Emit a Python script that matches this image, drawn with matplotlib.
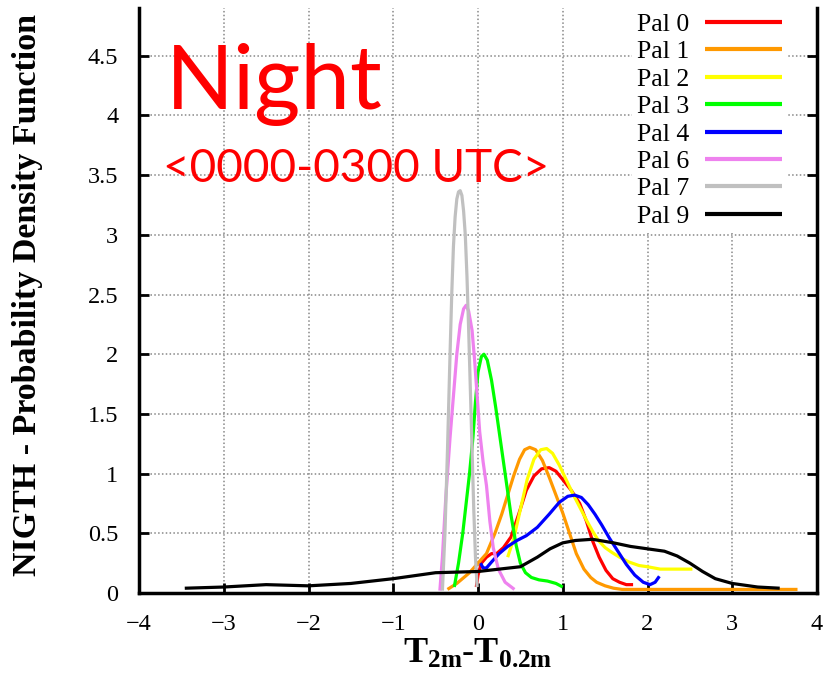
import matplotlib
matplotlib.use("Agg")
import matplotlib.pyplot as plt

# Temperature difference T2m - T0.2m (x) and estimated PDF (y) per Pal class
pal0_x = [-0.02, 0.0, 0.04, 0.1, 0.16, 0.22, 0.3, 0.39, 0.48, 0.57, 0.66, 0.75, 0.84, 0.92, 1.0, 1.1, 1.2, 1.28, 1.35, 1.43, 1.51, 1.59, 1.67, 1.75, 1.83]
pal0_y = [0.05, 0.15, 0.25, 0.3, 0.33, 0.33, 0.38, 0.47, 0.66, 0.86, 0.98, 1.04, 1.05, 1.02, 0.95, 0.86, 0.75, 0.6, 0.44, 0.3, 0.19, 0.12, 0.09, 0.07, 0.07]

pal1_x = [-0.36, -0.25, -0.1, 0.0, 0.1, 0.2, 0.28, 0.35, 0.42, 0.49, 0.55, 0.61, 0.68, 0.76, 0.84, 0.92, 1.0, 1.08, 1.16, 1.25, 1.33, 1.4, 1.5, 1.6, 1.7, 1.9, 2.2, 2.6, 3.0, 3.4, 3.77]
pal1_y = [0.03, 0.08, 0.17, 0.25, 0.33, 0.5, 0.66, 0.82, 0.98, 1.12, 1.2, 1.22, 1.2, 1.11, 0.97, 0.82, 0.67, 0.5, 0.33, 0.2, 0.13, 0.09, 0.06, 0.04, 0.03, 0.03, 0.03, 0.03, 0.03, 0.03, 0.03]

pal2_x = [0.35, 0.42, 0.5, 0.58, 0.66, 0.74, 0.81, 0.88, 0.96, 1.04, 1.12, 1.2, 1.28, 1.35, 1.42, 1.5, 1.58, 1.67, 1.78, 1.9, 2.0, 2.15, 2.3, 2.42, 2.53]
pal2_y = [0.3, 0.45, 0.7, 0.95, 1.12, 1.2, 1.21, 1.17, 1.07, 0.95, 0.83, 0.72, 0.61, 0.52, 0.44, 0.38, 0.34, 0.3, 0.26, 0.23, 0.22, 0.2, 0.2, 0.2, 0.2]

pal3_x = [-0.28, -0.23, -0.18, -0.14, -0.1, -0.06, -0.03, 0.0, 0.04, 0.07, 0.11, 0.16, 0.21, 0.27, 0.33, 0.39, 0.45, 0.5, 0.56, 0.63, 0.72, 0.82, 0.92, 1.0]
pal3_y = [0.05, 0.25, 0.5, 0.75, 1.0, 1.3, 1.6, 1.85, 1.98, 2.0, 1.95, 1.78, 1.55, 1.25, 0.95, 0.65, 0.4, 0.25, 0.17, 0.13, 0.11, 0.1, 0.08, 0.05]

pal4_x = [0.03, 0.06, 0.1, 0.16, 0.25, 0.35, 0.46, 0.57, 0.7, 0.84, 0.96, 1.06, 1.14, 1.22, 1.3, 1.38, 1.46, 1.55, 1.65, 1.75, 1.85, 1.95, 2.03, 2.09, 2.14]
pal4_y = [0.25, 0.21, 0.21, 0.26, 0.33, 0.39, 0.44, 0.48, 0.55, 0.66, 0.76, 0.81, 0.82, 0.8, 0.74, 0.66, 0.57, 0.46, 0.35, 0.24, 0.15, 0.09, 0.07, 0.09, 0.14]

pal6_x = [-0.45, -0.42, -0.38, -0.33, -0.29, -0.25, -0.21, -0.17, -0.14, -0.11, -0.07, -0.04, -0.01, 0.02, 0.06, 0.1, 0.14, 0.18, 0.24, 0.32, 0.43]
pal6_y = [0.02, 0.3, 0.8, 1.3, 1.65, 2.0, 2.25, 2.38, 2.41, 2.36, 2.2, 1.95, 1.65, 1.35, 1.1, 0.9, 0.6, 0.38, 0.2, 0.09, 0.03]

pal7_x = [-0.42, -0.39, -0.36, -0.33, -0.31, -0.29, -0.27, -0.25, -0.23, -0.21, -0.19, -0.17, -0.15, -0.13, -0.11, -0.09, -0.07, -0.05, -0.03, -0.01]
pal7_y = [0.02, 0.5, 1.2, 2.0, 2.5, 2.9, 3.15, 3.3, 3.36, 3.37, 3.33, 3.2, 3.0, 2.65, 2.2, 1.7, 1.2, 0.7, 0.3, 0.05]

pal9_x = [-3.46, -3.0, -2.5, -2.0, -1.5, -1.0, -0.5, 0.0, 0.5, 0.7, 0.85, 1.0, 1.15, 1.35, 1.6, 1.8, 2.0, 2.2, 2.35, 2.5, 2.65, 2.8, 3.0, 3.3, 3.56]
pal9_y = [0.04, 0.05, 0.07, 0.06, 0.08, 0.12, 0.17, 0.18, 0.22, 0.3, 0.37, 0.42, 0.44, 0.45, 0.42, 0.39, 0.37, 0.35, 0.31, 0.25, 0.18, 0.12, 0.08, 0.05, 0.04]

labels = ["Pal 0", "Pal 1", "Pal 2", "Pal 3", "Pal 4", "Pal 6", "Pal 7", "Pal 9"]
colors = ["#ff0000", "#ff9900", "#ffff00", "#00ff00", "#0000ff", "#ee82ee", "#c0c0c0", "#000000"]
xs = [pal0_x, pal1_x, pal2_x, pal3_x, pal4_x, pal6_x, pal7_x, pal9_x]
ys = [pal0_y, pal1_y, pal2_y, pal3_y, pal4_y, pal6_y, pal7_y, pal9_y]

x_ticks = [-4, -3, -2, -1, 0, 1, 2, 3, 4]
y_ticks = [0, 0.5, 1, 1.5, 2, 2.5, 3, 3.5, 4, 4.5]
y_tick_labels = ["0", "0.5", "1", "1.5", "2", "2.5", "3", "3.5", "4", "4.5"]

serif = "Liberation Serif"
plt.rcParams["font.family"] = serif
plt.rcParams["mathtext.fontset"] = "custom"
plt.rcParams["mathtext.rm"] = "Liberation Serif:bold"
plt.rcParams["mathtext.it"] = "Liberation Serif:bold"
plt.rcParams["mathtext.bf"] = "Liberation Serif:bold"

fig = plt.figure(figsize=(8.26, 6.75), dpi=100)
ax = fig.add_axes([139 / 826, 82 / 675, 678 / 826, 585 / 675])

for x, y, c, lab in zip(xs, ys, colors, labels):
    ax.plot(x, y, color=c, lw=2.3, label=lab, solid_capstyle="butt")

ax.set_xlim(-4, 4)
ax.set_ylim(0, 4.9)
ax.set_xticks(x_ticks)
ax.set_xticklabels(["\u2212" + str(-t) if t < 0 else str(t) for t in x_ticks])
ax.set_yticks(y_ticks)
ax.set_yticklabels(y_tick_labels)
ax.tick_params(direction="in", length=7, width=2, labelsize=17.5, right=True, top=False)
ax.tick_params(axis="y", pad=15)
ax.tick_params(axis="x", pad=15)
ax.grid(True, color="#888888", linestyle=(0, (1, 1.5)), lw=1.1)

for side in ["left", "bottom", "right"]:
    ax.spines[side].set_linewidth(2.5)
ax.spines["top"].set_visible(False)

ax.set_ylabel("NIGTH - Probability Density Function", fontsize=24.5, fontweight="bold")
ax.yaxis.set_label_coords(-0.142, 0.509)
ax.set_xlabel(r"$\mathbf{T_{2m}}$-$\mathbf{T_{0.2m}}$", fontsize=26, labelpad=2)

leg = ax.legend(loc="upper right", bbox_to_anchor=(0.956, 1.0), markerfirst=False, frameon=True,
                fontsize=18.5, handlelength=3.0, handletextpad=0.6, labelspacing=0.17,
                borderaxespad=0.0, borderpad=0.2)
leg.get_frame().set_edgecolor("none")
leg.get_frame().set_facecolor("white")
leg.get_frame().set_alpha(1.0)
for line in leg.get_lines():
    line.set_linewidth(3)

ax.text(0.04, 0.87, "Night", transform=ax.transAxes, color="red", fontsize=64,
        family="Lato", ha="left", va="center")
ax.text(0.035, 0.725, "<0000-0300 UTC>", transform=ax.transAxes, color="red", fontsize=33,
        family="Lato", ha="left", va="center")

fig.savefig("out.png", dpi=100)
